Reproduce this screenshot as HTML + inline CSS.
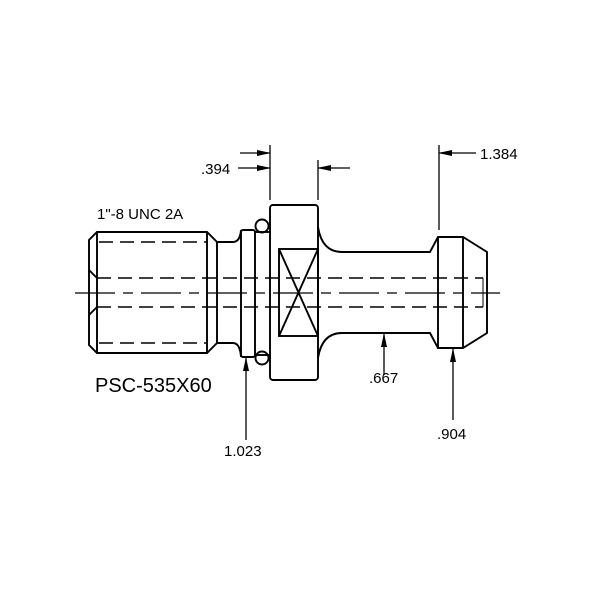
<!DOCTYPE html>
<html><head><style>html,body{margin:0;padding:0;background:#fff}svg{display:block}</style></head>
<body>
<svg width="600" height="600" viewBox="0 0 600 600" xmlns="http://www.w3.org/2000/svg">
<defs><marker id="a" markerWidth="14" markerHeight="8" refX="13" refY="4" orient="auto" markerUnits="userSpaceOnUse"><path d="M0,1 L14,4 L0,7 Z" fill="#000"/></marker></defs>
<g fill="none" stroke="#000" stroke-width="1.9">
<path d="M97,232 L207,232 L217,242 L217,343 L207,353 L97,353 L89,345 L89,240 Z"/>
<line x1="97" y1="232" x2="97" y2="353"/>
<line x1="207" y1="232" x2="207" y2="353"/>
<path d="M89,270 L97,278 M89,315 L97,307"/>
<path d="M217,242 L233,242 Q240,242 241,230 M217,343 L233,343 Q240,343 241,357"/>
<rect x="241" y="230" width="14" height="127" rx="2"/>
<line x1="255" y1="232" x2="270" y2="232"/><line x1="255" y1="355" x2="270" y2="355"/>
<circle cx="262" cy="226" r="6.5"/><circle cx="262" cy="358" r="6.5"/>
<rect x="270" y="205" width="48" height="175" rx="3"/>
<rect x="279" y="249" width="39" height="87"/>
<path d="M279,249 L318,336 M318,249 L279,336"/>
<path d="M318,227 Q322,252 342,252 L430,252 L438,237 L463,237 L487,252 L487,333 L463,348 L438,348 L430,333 L342,333 Q322,333 318,358"/>
<line x1="438" y1="237" x2="438" y2="348"/>
<line x1="463" y1="237" x2="463" y2="348"/>
<line x1="483" y1="278" x2="483" y2="307" stroke-width="1"/>
</g>
<g stroke="#000" stroke-width="1.4" fill="none" stroke-dasharray="14,7">
<line x1="99" y1="242" x2="207" y2="242"/><line x1="99" y1="343" x2="207" y2="343"/>
<line x1="97" y1="278" x2="483" y2="278"/><line x1="97" y1="307" x2="483" y2="307"/>
</g>
<line x1="75" y1="293" x2="500" y2="293" stroke="#000" stroke-width="1.3" stroke-dasharray="40,8,10,8"/>
<g stroke="#000" stroke-width="1.3" fill="none">
<line x1="270" y1="145" x2="270" y2="200"/>
<line x1="318" y1="160" x2="318" y2="200"/>
<line x1="240" y1="153" x2="270" y2="153" marker-end="url(#a)"/>
<line x1="238" y1="168" x2="270" y2="168" marker-end="url(#a)"/>
<line x1="350" y1="168" x2="318" y2="168" marker-end="url(#a)"/>
<line x1="439" y1="145" x2="439" y2="230"/>
<line x1="476" y1="153" x2="439" y2="153" marker-end="url(#a)"/>
<line x1="384" y1="375" x2="384" y2="334" marker-end="url(#a)"/>
<line x1="453" y1="420" x2="453" y2="349" marker-end="url(#a)"/>
<line x1="246" y1="440" x2="246" y2="358" marker-end="url(#a)"/>
</g>
<g font-family="Liberation Sans, sans-serif" fill="#000">
<text x="201" y="174" font-size="15">.394</text>
<text x="480" y="159" font-size="15">1.384</text>
<text x="97" y="219" font-size="15">1"-8 UNC 2A</text>
<text x="95" y="392" font-size="20">PSC-535X60</text>
<text x="369" y="383" font-size="15">.667</text>
<text x="437" y="439" font-size="15">.904</text>
<text x="224" y="456" font-size="15">1.023</text>
</g>
</svg>
</body></html>
